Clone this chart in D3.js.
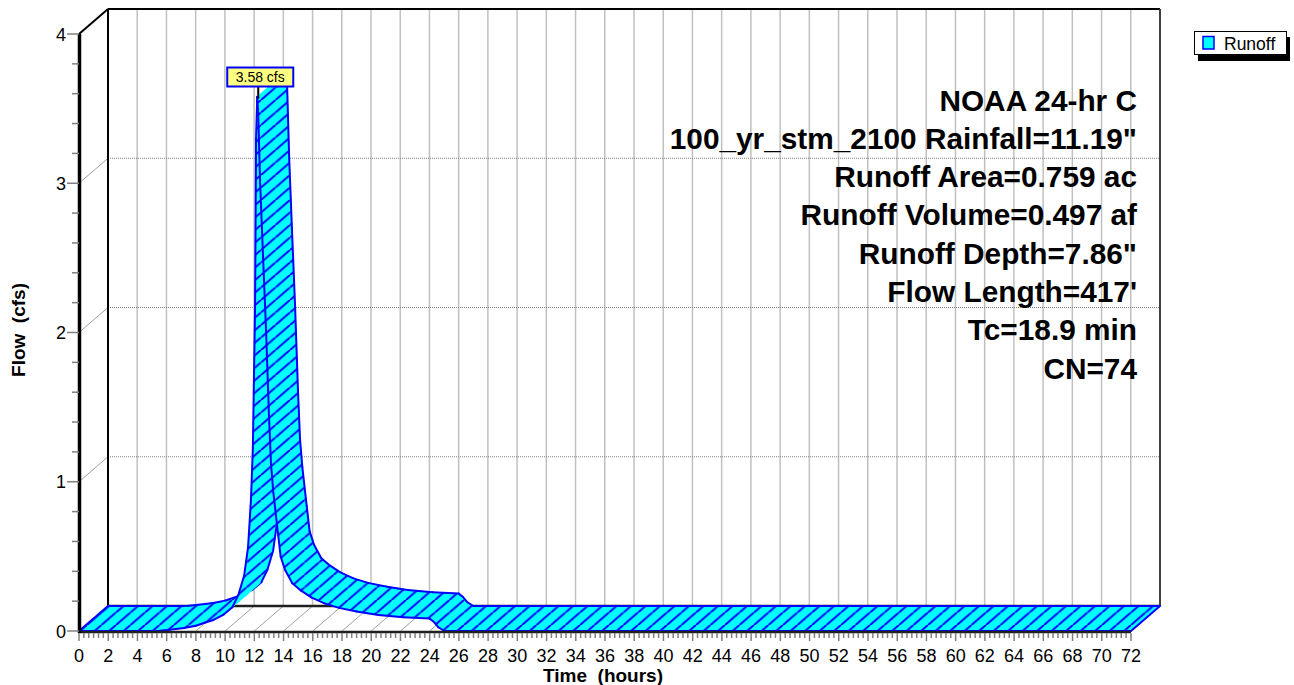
<!DOCTYPE html>
<html><head><meta charset="utf-8">
<script src="https://cdn.jsdelivr.net/npm/d3@7"></script>
<style>
body{margin:0;background:#fff}
svg{display:block;font-family:"Liberation Sans",Arial,Helvetica,sans-serif}
</style>
</head><body>
<svg id="chart" width="1294" height="685"></svg>
<script>
// ---- data ----
const hours = [0, 5.4, 6.2, 7.2, 8.0, 8.6, 9.2, 9.9, 10.5, 10.9, 11.3, 11.57, 11.77, 11.9, 12.05, 12.12, 12.2, 12.26, 12.4, 12.6, 12.8, 13.0, 13.14, 13.3, 13.6, 13.8, 14.1, 14.6, 15.2, 15.9, 16.8, 17.8, 19.0, 20.5, 22.2, 24.0, 24.3, 24.6, 25.0, 72];
const flow  = [0, 0, 0.008, 0.02, 0.035, 0.055, 0.074, 0.11, 0.16, 0.24, 0.37, 0.56, 0.88, 1.23, 2.17, 3.3, 3.58, 3.48, 3.0, 2.5, 2.02, 1.45, 1.12, 0.93, 0.67, 0.5, 0.41, 0.32, 0.27, 0.225, 0.185, 0.155, 0.13, 0.107, 0.092, 0.083, 0.06, 0.025, 0, 0];
const yTickValues = [0, 1, 2, 3, 4];
const xTickValues = [0,2,4,6,8,10,12,14,16,18,20,22,24,26,28,30,32,34,36,38,40,42,44,46,48,50,52,54,56,58,60,62,64,66,68,70,72];
const infoLines = ["NOAA 24-hr C", "100_yr_stm_2100 Rainfall=11.19\"", "Runoff Area=0.759 ac", "Runoff Volume=0.497 af", "Runoff Depth=7.86\"", "Flow Length=417'", "Tc=18.9 min", "CN=74"];
const seriesName = "Runoff";
const peakText = "3.58 cfs";
const xTitle = "Time  (hours)";
const yTitle = "Flow  (cfs)";

// ---- layout ----
const svg = d3.select("#chart");
const x = d3.scaleLinear().domain([0, 72]).range([79, 1131]);
const y = d3.scaleLinear().domain([0, 4]).range([631, 34]);
const DX = 29, DY = -25;
const GRID = "#c0c0c0";

// hatch pattern (screen aligned, parallel to depth direction)
const defs = svg.append("defs");
const PW = 14.5, PH = PW * (-DY) / DX;
const pat = defs.append("pattern").attr("id", "hatch")
  .attr("patternUnits", "userSpaceOnUse").attr("width", PW).attr("height", PH);
pat.append("rect").attr("width", PW).attr("height", PH).attr("fill", "#00ffff");
[[0, PH, PW, 0], [-PW, PH, 0, 0], [PW, PH, 2 * PW, 0]].forEach(l =>
  pat.append("line").attr("x1", l[0]).attr("y1", l[1]).attr("x2", l[2]).attr("y2", l[3])
    .attr("stroke", "#0000ff").attr("stroke-width", 2));

const g = svg.append("g");

// back wall vertical gridlines
g.selectAll(".bv").data(xTickValues.filter(d => d > 0)).enter().append("line")
  .attr("x1", d => x(d) + DX).attr("x2", d => x(d) + DX)
  .attr("y1", y(4) + DY).attr("y2", y(0) + DY)
  .attr("stroke", GRID).attr("stroke-width", 1.5);
// back wall horizontal dotted gridlines
g.selectAll(".bh").data(yTickValues.filter(d => d > 0 && d < 4)).enter().append("line")
  .attr("x1", x(0) + DX).attr("x2", x(72) + DX)
  .attr("y1", d => y(d) + DY).attr("y2", d => y(d) + DY)
  .attr("stroke", "#808080").attr("stroke-width", 1).attr("stroke-dasharray", "1,1");
// left wall diagonals
g.selectAll(".ld").data(yTickValues.filter(d => d > 0 && d < 4)).enter().append("line")
  .attr("x1", x(0)).attr("y1", d => y(d)).attr("x2", x(0) + DX).attr("y2", d => y(d) + DY)
  .attr("stroke", "#a0a0a0").attr("stroke-width", 1);
// floor diagonals
g.selectAll(".fd").data(xTickValues).enter().append("line")
  .attr("x1", d => x(d)).attr("y1", y(0)).attr("x2", d => x(d) + DX).attr("y2", y(0) + DY)
  .attr("stroke", "#a0a0a0").attr("stroke-width", 1);

// back wall frame
g.append("line").attr("x1", x(0) + DX).attr("x2", x(0) + DX).attr("y1", y(4) + DY).attr("y2", y(0) + DY)
  .attr("stroke", "#000").attr("stroke-width", 2);
g.append("line").attr("x1", x(0) + DX).attr("x2", x(72) + DX).attr("y1", y(4) + DY).attr("y2", y(4) + DY)
  .attr("stroke", "#000").attr("stroke-width", 2);
g.append("line").attr("x1", x(72) + DX).attr("x2", x(72) + DX).attr("y1", y(4) + DY).attr("y2", y(0) + DY)
  .attr("stroke", "#404040").attr("stroke-width", 2);
g.append("line").attr("x1", x(0) + DX).attr("x2", x(72) + DX).attr("y1", y(0) + DY).attr("y2", y(0) + DY)
  .attr("stroke", "#202020").attr("stroke-width", 2.5);
g.append("line").attr("x1", x(0)).attr("y1", y(4)).attr("x2", x(0) + DX).attr("y2", y(4) + DY)
  .attr("stroke", "#000").attr("stroke-width", 2);

// ---- ribbon ----
const pts = hours.map((h, i) => ({fx: x(h), fy: y(flow[i]), bx: x(h) + DX, by: y(flow[i]) + DY}));
const rib = svg.append("g");
for (let i = 0; i < pts.length - 1; i++) {
  const a = pts[i], b = pts[i + 1];
  rib.append("path")
    .attr("d", `M${a.fx},${a.fy}L${b.fx},${b.fy}L${b.bx},${b.by}L${a.bx},${a.by}Z`)
    .attr("fill", "url(#hatch)").attr("stroke", "url(#hatch)").attr("stroke-width", 0.6);
  rib.append("path").attr("d", `M${a.fx},${a.fy}L${b.fx},${b.fy}`)
    .attr("stroke", "#0000ff").attr("stroke-width", 2).attr("stroke-linecap", "round").attr("fill", "none");
  rib.append("path").attr("d", `M${a.bx},${a.by}L${b.bx},${b.by}`)
    .attr("stroke", "#0000ff").attr("stroke-width", 2).attr("stroke-linecap", "round").attr("fill", "none");
}
[pts[0], pts[pts.length - 1]].forEach(p =>
  rib.append("line").attr("x1", p.fx).attr("y1", p.fy).attr("x2", p.bx).attr("y2", p.by)
    .attr("stroke", "#0000ff").attr("stroke-width", 2));

// ---- front axes ----
const ax = svg.append("g");
ax.append("line").attr("x1", x(0)).attr("x2", x(72)).attr("y1", y(0) + 1).attr("y2", y(0) + 1)
  .attr("stroke", "#202020").attr("stroke-width", 2.5);
ax.append("line").attr("x1", x(0) + 0.5).attr("x2", x(0) + 0.5).attr("y1", y(4)).attr("y2", y(0) + 2)
  .attr("stroke", "#000").attr("stroke-width", 3.5);

// y ticks
const yMinor = d3.range(0, 4.001, 0.2).filter(v => Math.abs(v - Math.round(v)) > 1e-6);
ax.selectAll(".ym").data(yMinor).enter().append("line")
  .attr("x1", x(0) - 7).attr("x2", x(0)).attr("y1", d => y(d)).attr("y2", d => y(d))
  .attr("stroke", "#808080").attr("stroke-width", 1.5);
ax.selectAll(".yM").data(yTickValues).enter().append("line")
  .attr("x1", x(0) - 12).attr("x2", x(0)).attr("y1", d => y(d)).attr("y2", d => y(d))
  .attr("stroke", "#808080").attr("stroke-width", 1.5);
ax.selectAll(".yl").data(yTickValues).enter().append("text")
  .attr("x", x(0) - 13).attr("y", d => y(d) + 6.5).attr("text-anchor", "end")
  .attr("font-size", 18).attr("fill", "#000").text(d => d);

// x ticks
const xMinor = d3.range(0, 72.001, 1 / 3).filter(v => Math.abs(v / 2 - Math.round(v / 2)) > 1e-6);
ax.selectAll(".xm").data(xMinor).enter().append("line")
  .attr("x1", d => x(d)).attr("x2", d => x(d)).attr("y1", y(0) + 2).attr("y2", y(0) + 7)
  .attr("stroke", "#808080").attr("stroke-width", 1.5);
ax.selectAll(".xM").data(xTickValues).enter().append("line")
  .attr("x1", d => x(d)).attr("x2", d => x(d)).attr("y1", y(0) + 2).attr("y2", y(0) + 10)
  .attr("stroke", "#808080").attr("stroke-width", 1.5);
ax.selectAll(".xl").data(xTickValues).enter().append("text")
  .attr("x", d => x(d)).attr("y", 662).attr("text-anchor", "middle")
  .attr("font-size", 18).attr("fill", "#000").text(d => d);

// axis titles
svg.append("text").attr("x", 603).attr("y", 682).attr("text-anchor", "middle")
  .attr("font-size", 19).attr("font-weight", "bold").style("white-space", "pre").text(xTitle);
svg.append("text").attr("transform", "translate(25,330) rotate(-90)").attr("text-anchor", "middle")
  .attr("font-size", 19).attr("font-weight", "bold").style("white-space", "pre").text(yTitle);

// info text
svg.selectAll(".info").data(infoLines).enter().append("text")
  .attr("x", 1137).attr("y", (d, i) => 110.5 + i * 38.3).attr("text-anchor", "end")
  .attr("font-size", 29.8).attr("font-weight", "bold").attr("fill", "#000").text(d => d);

// peak label
const pi = flow.indexOf(d3.max(flow));
const px = x(hours[pi]), py = y(flow[pi]);
svg.append("line").attr("x1", px + 1).attr("x2", px + 1).attr("y1", 86).attr("y2", py + 2)
  .attr("stroke", "#000").attr("stroke-width", 2);
svg.append("rect").attr("x", px - 30).attr("y", 67.5).attr("width", 66).attr("height", 19)
  .attr("fill", "#ffff80").attr("stroke", "#0000ff").attr("stroke-width", 2);
svg.append("text").attr("x", px + 3).attr("y", 82).attr("text-anchor", "middle")
  .attr("font-size", 14).attr("fill", "#000").text(peakText);

// legend
const lg = svg.append("g");
lg.append("rect").attr("x", 1198).attr("y", 37).attr("width", 92).attr("height", 24).attr("fill", "#000");
lg.append("rect").attr("x", 1194.5).attr("y", 31.5).attr("width", 92).attr("height", 23)
  .attr("fill", "#fff").attr("stroke", "#000").attr("stroke-width", 1);
lg.append("rect").attr("x", 1203).attr("y", 36.5).attr("width", 11).attr("height", 12.5)
  .attr("fill", "#00ffff").attr("stroke", "#0000ff").attr("stroke-width", 1.5);
lg.append("text").attr("x", 1224).attr("y", 49.5).attr("font-size", 17.5).attr("fill", "#000").text(seriesName);
</script>
</body></html>
